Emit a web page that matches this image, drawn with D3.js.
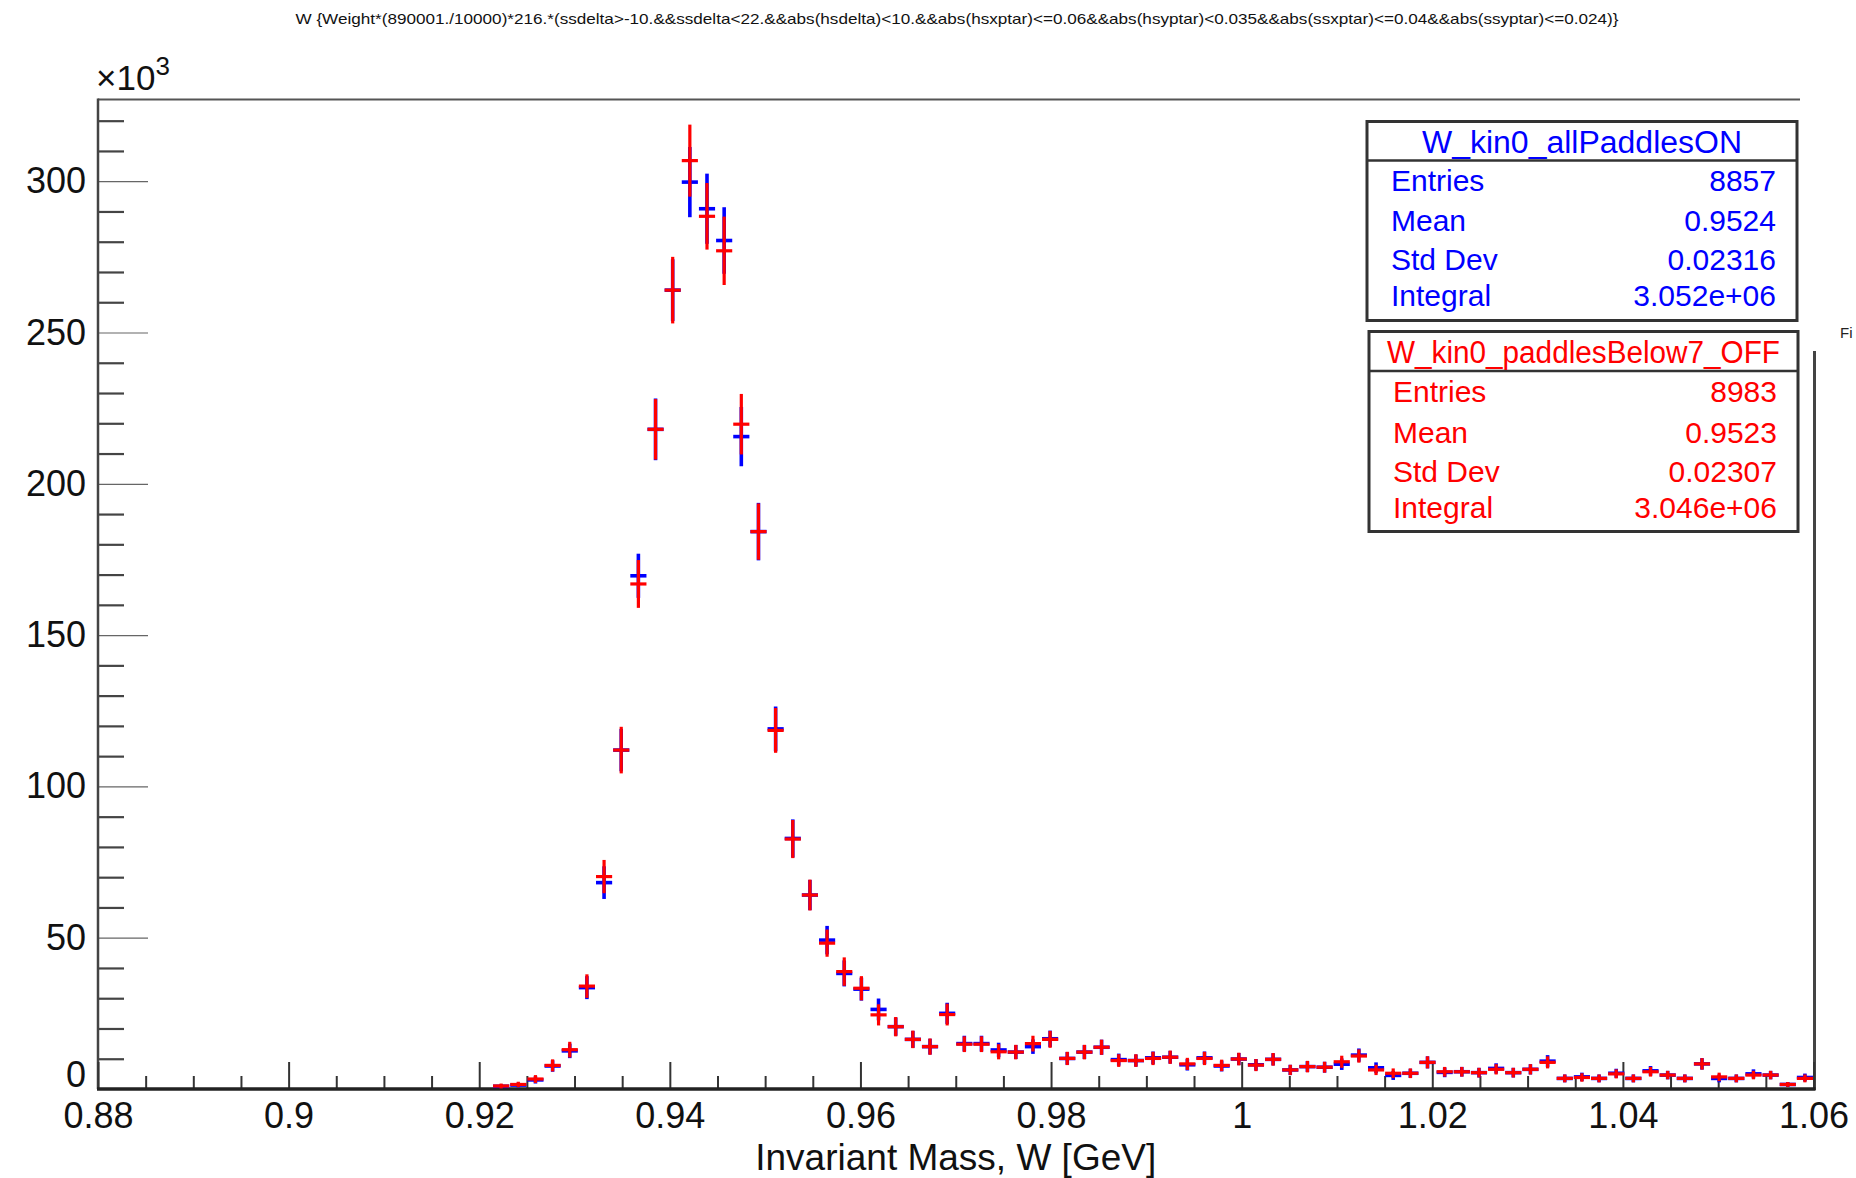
<!DOCTYPE html>
<html>
<head>
<meta charset="utf-8">
<script src="https://cdn.jsdelivr.net/npm/d3@7"></script>
<style>
  html, body { margin: 0; padding: 0; background: #fff; }
  svg { display: block; }
  text { font-family: "Liberation Sans", Arial, Helvetica, sans-serif; }
</style>
</head>
<body>
<svg id="chart" width="1856" height="1178"></svg>
<script>
// ---------------- data ----------------
const titleText = "W {Weight*(890001./10000)*216.*(ssdelta>-10.&&ssdelta<22.&&abs(hsdelta)<10.&&abs(hsxptar)<=0.06&&abs(hsyptar)<0.035&&abs(ssxptar)<=0.04&&abs(ssyptar)<=0.024)}";
const xAxisTitle = "Invariant Mass, W [GeV]";

// histogram binning: 100 bins in [0.88, 1.06]; bins below 0.9214 are empty
const binWidth = 0.0018;
const binCenters = [0.9223,0.9241,0.9259,0.9277,0.9295,0.9313,0.9331,0.9349,0.9367,0.9385,
  0.9403,0.9421,0.9439,0.9457,0.9475,0.9493,0.9511,0.9529,0.9547,0.9565,
  0.9583,0.9601,0.9619,0.9637,0.9655,0.9673,0.9691,0.9709,0.9727,0.9745,
  0.9763,0.9781,0.9799,0.9817,0.9835,0.9853,0.9871,0.9889,0.9907,0.9925,
  0.9943,0.9961,0.9979,0.9997,1.0015,1.0033,1.0051,1.0069,1.0087,1.0105,
  1.0123,1.0141,1.0159,1.0177,1.0195,1.0213,1.0231,1.0249,1.0267,1.0285,
  1.0303,1.0321,1.0339,1.0357,1.0375,1.0393,1.0411,1.0429,1.0447,1.0465,
  1.0483,1.0501,1.0519,1.0537,1.0555,1.0573,1.0591];

// values in units of 10^3
const allPaddlesON = [0.9,1.3,3.0,7.6,12.6,33.5,68.2,112,169.6,218,
  264,299.7,290.9,280.4,215.6,184.2,119,82.8,64.1,49.2,
  38.2,33.0,26.3,20.6,16.4,14.0,25.0,15.0,15.0,12.9,
  12.2,14.0,16.6,10.1,12.2,13.8,9.7,9.4,10.3,10.5,
  8.0,10.3,7.6,9.9,8.0,9.8,6.3,7.4,7.2,8.2,
  11.2,7.0,4.5,5.2,8.8,5.5,5.7,5.4,6.8,5.4,
  6.5,9.2,3.5,4.0,3.5,5.2,3.5,6.0,4.6,3.5,
  8.3,3.5,3.5,5.0,4.6,1.5,3.8];
const allPaddlesONErr = [0.6,0.8,1.2,1.9,2.4,3.8,5.4,7.0,7.3,10.2,
  10.2,11.6,11.6,11.0,9.8,9.5,7.4,6.3,5.0,4.7,
  4.3,3.8,3.6,3.0,2.8,2.6,3.5,2.6,2.6,2.4,
  2.3,2.4,2.7,2.1,2.3,2.5,2.0,2.0,2.1,2.1,
  1.9,2.1,1.8,2.0,1.9,2.0,1.7,1.8,1.8,1.9,
  2.2,1.8,1.5,1.5,2.0,1.6,1.6,1.6,1.7,1.6,
  1.7,2.0,1.3,1.4,1.3,1.5,1.3,1.6,1.4,1.3,
  1.9,1.3,1.3,1.5,1.4,0.8,1.3];

const paddlesBelow7OFF = [1.0,1.5,3.3,7.8,13.0,34.0,70.2,112,166.9,218,
  264,306.8,288.4,277,219.7,184.2,118.5,82.6,64.1,48.2,
  38.8,33.3,24.5,20.6,16.4,14.0,24.6,14.8,14.8,12.3,
  12.2,15.0,16.4,10.1,12.2,13.8,9.4,9.4,10.1,10.5,
  8.3,10.1,7.8,9.9,7.9,9.8,6.3,7.4,7.2,9.0,
  10.9,6.3,5.2,5.2,8.8,5.7,5.7,5.4,6.5,5.4,
  6.5,8.8,3.5,3.8,3.5,5.0,3.5,5.7,4.6,3.5,
  8.3,4.0,3.5,4.6,4.6,1.5,3.5];
const paddlesBelow7OFFErr = [0.8,0.9,1.3,2.0,2.6,3.9,5.5,7.7,7.9,10.0,
  11.0,11.9,11.0,11.3,10.0,9.3,7.4,6.3,5.1,4.5,
  4.7,4.0,3.5,3.2,2.9,2.7,3.6,2.6,2.6,2.5,
  2.4,2.6,2.8,2.2,2.4,2.5,2.1,2.1,2.2,2.2,
  2.0,2.2,1.9,2.1,2.0,2.1,1.7,1.9,1.8,2.0,
  2.2,1.7,1.6,1.6,2.0,1.6,1.6,1.6,1.7,1.6,
  1.7,2.0,1.3,1.4,1.3,1.5,1.3,1.6,1.4,1.3,
  1.9,1.4,1.3,1.4,1.4,0.8,1.3];

const xTicks = [0.88,0.9,0.92,0.94,0.96,0.98,1,1.02,1.04,1.06];
const xTickLabels = ["0.88","0.9","0.92","0.94","0.96","0.98","1","1.02","1.04","1.06"];
const yTicks = [0,50,100,150,200,250,300];
const yTickLabels = ["0","50","100","150","200","250","300"];

const statsNames = ["W_kin0_allPaddlesON", "W_kin0_paddlesBelow7_OFF"];
const statsLabels = ["Entries", "Mean", "Std Dev", "Integral"];
const statsON = ["8857", "0.9524", "0.02316", "3.052e+06"];
const statsOFF = ["8983", "0.9523", "0.02307", "3.046e+06"];

// ---------------- drawing ----------------
const svg = d3.select("#chart");
svg.append("rect").attr("width", 1856).attr("height", 1178).attr("fill", "#fff");

const L = 98, R = 1813.5, T = 99.5, B = 1089;
const x = d3.scaleLinear().domain([0.88, 1.06]).range([L, R]);
const y = d3.scaleLinear().domain([0, 327]).range([B, T]);

// title
svg.append("text")
  .attr("x", 957).attr("y", 24)
  .attr("text-anchor", "middle")
  .attr("font-size", 15)
  .attr("textLength", 1323)
  .attr("lengthAdjust", "spacingAndGlyphs")
  .attr("fill", "#111")
  .text(titleText);

// frame top / right
svg.append("line").attr("x1", L).attr("x2", 1800).attr("y1", T).attr("y2", T)
  .attr("stroke", "#555").attr("stroke-width", 2);
svg.append("line").attr("x1", R + 1).attr("x2", R + 1).attr("y1", 351).attr("y2", B + 1)
  .attr("stroke", "#444").attr("stroke-width", 3);

// y minor ticks
const yMinor = d3.range(10, 327, 10).filter(v => v % 50 !== 0);
svg.append("g").attr("transform", `translate(${L},0)`)
  .call(d3.axisLeft(y).tickValues(yMinor).tickSizeInner(-26).tickSizeOuter(0).tickFormat(""))
  .call(g => g.select(".domain").remove())
  .call(g => g.selectAll("line").attr("stroke", "#444").attr("stroke-width", 2.2));
// y major ticks + labels
svg.append("g").attr("transform", `translate(${L},0)`)
  .call(d3.axisLeft(y).tickValues(yTicks).tickSizeInner(-50).tickSizeOuter(0).tickPadding(12)
        .tickFormat((d, i) => yTickLabels[i]))
  .call(g => g.select(".domain").remove())
  .call(g => g.selectAll("line").attr("stroke", "#666").attr("stroke-width", 1.2))
  .call(g => g.selectAll("text").attr("font-size", 36).attr("fill", "#111")
        .attr("font-family", '"Liberation Sans", Arial, sans-serif'))
  .call(g => g.selectAll(".tick").filter(d => d === 0).select("text").attr("dy", "-0.07em"));
svg.append("line").attr("x1", L).attr("x2", L).attr("y1", T - 1).attr("y2", B)
  .attr("stroke", "#444").attr("stroke-width", 2.5);

// x minor ticks
const xMinor = d3.range(0, 37).map(k => 0.88 + k * 0.005).filter(v => Math.abs(Math.round(v / 0.02) * 0.02 - v) > 1e-6);
svg.append("g").attr("transform", `translate(0,${B})`)
  .call(d3.axisBottom(x).tickValues(xMinor).tickSizeInner(-13).tickSizeOuter(0).tickFormat(""))
  .call(g => g.select(".domain").remove())
  .call(g => g.selectAll("line").attr("stroke", "#333").attr("stroke-width", 2));
svg.append("g").attr("transform", `translate(0,${B})`)
  .call(d3.axisBottom(x).tickValues(xTicks).tickSizeInner(-27).tickSizeOuter(0).tickPadding(13)
        .tickFormat((d, i) => xTickLabels[i]))
  .call(g => g.select(".domain").remove())
  .call(g => g.selectAll("line").attr("stroke", "#333").attr("stroke-width", 2))
  .call(g => g.selectAll("text").attr("font-size", 36).attr("fill", "#111")
        .attr("font-family", '"Liberation Sans", Arial, sans-serif'));
svg.append("line").attr("x1", L - 1).attr("x2", R + 2).attr("y1", B).attr("y2", B)
  .attr("stroke", "#222").attr("stroke-width", 3.5);

// x axis title
svg.append("text").attr("x", (L + R) / 2).attr("y", 1170)
  .attr("text-anchor", "middle").attr("font-size", 37).attr("fill", "#111")
  .text(xAxisTitle);

// x10^3
const mult = svg.append("text").attr("x", 96).attr("y", 90).attr("font-size", 35).attr("fill", "#111");
mult.append("tspan").text("\u00d710");
mult.append("tspan").attr("font-size", 26).attr("dy", -15).text("3");

// data series (error bars in ROOT "E" style)
function drawSeries(vals, errs, color, width) {
  const g = svg.append("g");
  const pts = binCenters.map((c, i) => ({c, v: vals[i], e: errs[i]})).filter(d => d.v > 0);
  g.selectAll("line.v").data(pts).enter().append("line")
    .attr("x1", d => x(d.c)).attr("x2", d => x(d.c))
    .attr("y1", d => y(Math.max(0, d.v - d.e))).attr("y2", d => y(d.v + d.e))
    .attr("stroke", color).attr("stroke-width", width);
  g.selectAll("line.h").data(pts).enter().append("line")
    .attr("x1", d => x(d.c - binWidth / 2) + 0.5).attr("x2", d => x(d.c + binWidth / 2) - 0.5)
    .attr("y1", d => y(d.v)).attr("y2", d => y(d.v))
    .attr("stroke", color).attr("stroke-width", width);
}
drawSeries(allPaddlesON, allPaddlesONErr, "#0000ff", 3.6);
drawSeries(paddlesBelow7OFF, paddlesBelow7OFFErr, "#ff0000", 3.2);

// stats boxes
function statsBox(x0, y0, w, h, divY, name, vals, color, titleW, rowYs) {
  const g = svg.append("g");
  g.append("rect").attr("x", x0).attr("y", y0).attr("width", w).attr("height", h)
    .attr("fill", "#fff").attr("stroke", "#333").attr("stroke-width", 3);
  g.append("line").attr("x1", x0).attr("x2", x0 + w).attr("y1", divY).attr("y2", divY)
    .attr("stroke", "#333").attr("stroke-width", 2.5);
  g.append("text").attr("x", x0 + w / 2).attr("y", divY - 8).attr("text-anchor", "middle")
    .attr("font-size", 31).attr("fill", color)
    .attr("textLength", titleW).attr("lengthAdjust", "spacingAndGlyphs").text(name);
  statsLabels.forEach((lab, i) => {
    g.append("text").attr("x", x0 + 24).attr("y", rowYs[i]).attr("font-size", 30)
      .attr("fill", color).text(lab);
    g.append("text").attr("x", x0 + w - 21).attr("y", rowYs[i]).attr("font-size", 30)
      .attr("text-anchor", "end").attr("fill", color).text(vals[i]);
  });
}
statsBox(1367, 121.5, 430, 199, 160.5, statsNames[0], statsON, "#0000ff", 320, [191, 231, 270, 306]);
statsBox(1369, 331.5, 429, 200, 371, statsNames[1], statsOFF, "#ff0000", 393, [402, 443, 482, 518]);

// fragment of the surrounding document caption (cut at the page edge in the reference)
svg.append("text").attr("x", 1840).attr("y", 338).attr("font-size", 15)
  .attr("font-family", '"Liberation Serif", "DejaVu Serif", serif').attr("fill", "#222").text("Fi");
</script>
</body>
</html>
